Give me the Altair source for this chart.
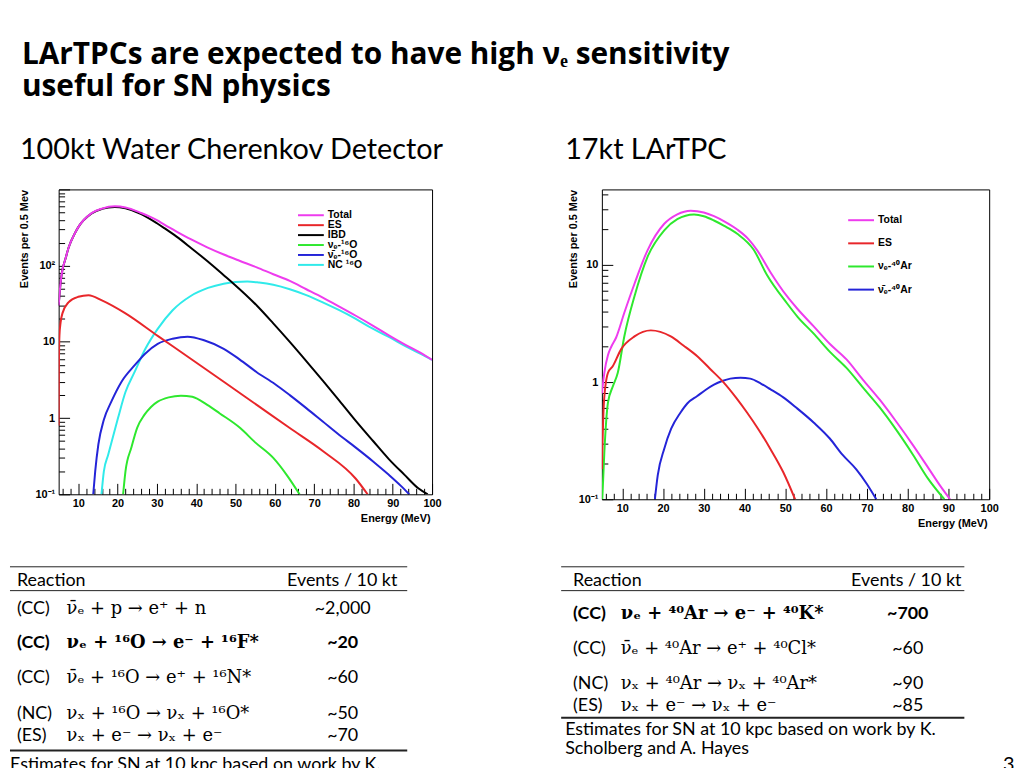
import altair as alt
import pandas as pd

# ---------------- data: 100kt Water Cherenkov ----------------
wc_total_E = [5, 5.5, 6, 6.7, 7.5, 9.2, 10, 13.4, 16, 19.3, 22, 26, 30, 31.9, 35, 38.6, 42.8, 47, 51, 55.4, 59.6, 63.8, 68, 72.2, 76.4, 80.6, 84.8, 89, 93, 97, 100]
wc_total_v = [30, 60, 90, 121, 170, 270, 320, 488, 560, 600, 580, 490, 395, 345, 280, 222, 174, 140, 116, 95, 77, 63, 49, 38, 29, 22, 16.5, 12.2, 9.3, 7.2, 5.8]
wc_es_E = [5, 5.05, 5.2, 5.5, 6, 7.5, 10, 12.6, 16, 21.8, 30.2, 38.6, 47, 55.4, 63.8, 72.2, 80.6, 83.6]
wc_es_v = [0.8, 4, 12, 18, 24, 33, 39, 41, 35, 24, 12, 6, 3.0, 1.49, 0.74, 0.37, 0.16, 0.1]
wc_ibd_E = [5, 5.5, 6, 6.7, 7.5, 9.2, 10, 13.4, 16, 19.3, 22, 26, 30, 31.9, 35, 38.6, 42.8, 47, 49.5, 55.4, 59.6, 63.8, 68, 72.2, 76.4, 80.6, 85, 89, 93, 96.5, 98.9]
wc_ibd_v = [30, 60, 90, 121, 170, 270, 320, 485, 555, 590, 565, 475, 360, 310, 240, 172, 115, 75, 58, 30, 17.5, 10, 5.6, 3.1, 1.7, 0.92, 0.5, 0.29, 0.18, 0.12, 0.1]
wc_nue_E = [21.4, 22, 23.5, 25, 26.8, 28.5, 30.2, 33, 36.1, 39, 42.8, 46, 51.2, 55, 59.6, 63, 66.3]
wc_nue_v = [0.1, 0.2, 0.41, 0.75, 1.1, 1.4, 1.64, 1.87, 1.97, 1.9, 1.49, 1.15, 0.74, 0.48, 0.30, 0.18, 0.1]
wc_nuebar_E = [13.8, 14.3, 15.1, 16.5, 18.4, 21, 24.3, 27, 30.2, 34, 37.8, 42, 47, 51, 55.4, 60, 63.8, 68, 72.2, 76.4, 80.6, 85, 89, 92, 94.2]
wc_nuebar_v = [0.1, 0.2, 0.45, 0.95, 1.64, 3.0, 4.9, 7, 9.4, 11, 11.7, 10.5, 8.1, 5.9, 4.0, 2.8, 2.0, 1.35, 0.9, 0.6, 0.41, 0.27, 0.18, 0.13, 0.1]
wc_nc_E = [15.9, 16.5, 17.6, 20.1, 22, 24.3, 27, 30.2, 34, 38.6, 43, 47, 50, 53, 56, 59.6, 63.8, 68, 72.2, 76.4, 80.6, 84.8, 89, 93.2, 97, 100]
wc_nc_v = [0.1, 0.2, 0.33, 1.0, 2.2, 4.0, 8, 14.8, 26, 40, 51, 58, 61, 62, 60, 56, 49, 41, 33, 26, 20, 15, 11.6, 8.8, 7, 5.8]

wc_names = ["Total", "ES", "IBD", "νₑ-¹⁶O", "ν̄ₑ-¹⁶O", "NC ¹⁶O"]
wc_colors = ["#ee3cee", "#e8262a", "#000000", "#2ee82e", "#2424d8", "#30eaea"]

# ---------------- data: 17kt LArTPC ----------------
ar_total_E = [5, 5.6, 6.5, 7.3, 8.5, 10.5, 13, 16.2, 20.3, 23.5, 26.8, 30, 32.5, 35, 38.2, 41, 43.1, 46.3, 50.4, 53, 56.9, 61, 65, 69, 73.1, 77, 81.3, 85.3, 88, 90.4]
ar_total_v = [0.8, 1.2, 1.7, 2.0, 2.4, 3.9, 6.9, 13.3, 22.4, 27, 29, 28, 26, 23.5, 20, 16.5, 13.3, 8.7, 5.4, 4.2, 3.0, 2.1, 1.56, 1.05, 0.71, 0.47, 0.29, 0.18, 0.13, 0.1]
ar_es_E = [5, 5.5, 6.5, 7.7, 9.7, 13, 17, 21.9, 25, 28.4, 31.5, 34.9, 38, 40.6, 43.5, 46.3, 49.5, 52.4]
ar_es_v = [0.18, 0.67, 1.2, 1.37, 1.9, 2.45, 2.76, 2.45, 2.05, 1.66, 1.3, 0.99, 0.73, 0.55, 0.39, 0.27, 0.17, 0.1]
ar_nue_E = [5.1, 5.6, 6.5, 7.7, 8.9, 10.5, 13, 16.2, 20.3, 23.5, 27.6, 30, 32.5, 35, 38.2, 42.2, 45.5, 50.4, 53, 56.9, 61, 65, 69, 73.1, 77, 81.3, 85, 89]
ar_nue_v = [0.1, 0.25, 0.67, 0.92, 1.2, 2.45, 5.4, 11.7, 19.7, 24.5, 26.9, 26, 23.9, 21.5, 18.4, 13.5, 8.2, 4.7, 3.6, 2.6, 1.8, 1.32, 0.9, 0.61, 0.4, 0.24, 0.15, 0.1]
ar_nuebar_E = [18, 18.7, 20.3, 22, 24.3, 26, 28.4, 30.5, 32.5, 34.5, 36.5, 39, 41.4, 44, 46.3, 49.5, 52.8, 57, 60.9, 64, 67.4, 70, 72.3]
ar_nuebar_v = [0.1, 0.16, 0.27, 0.4, 0.55, 0.66, 0.76, 0.86, 0.95, 1.02, 1.07, 1.09, 1.07, 0.97, 0.87, 0.74, 0.6, 0.45, 0.33, 0.24, 0.18, 0.135, 0.1]

ar_names = ["Total", "ES", "νₑ-⁴⁰Ar", "ν̄ₑ-⁴⁰Ar"]
ar_colors = ["#ee3cee", "#e8262a", "#2ee82e", "#2424d8"]

# ---------------- text ----------------
title_lines = ["LArTPCs are expected to have high νₑ sensitivity", "useful for SN physics"]
subtitles = ["100kt Water Cherenkov Detector", "17kt LArTPC"]
table_header = ["Reaction", "Events / 10 kt"]

wc_type = ["(CC)", "(CC)", "(CC)", "(NC)", "(ES)"]
wc_reaction = ["ν̄ₑ + p → e⁺ + n", "νₑ + ¹⁶O → e⁻ + ¹⁶F*", "ν̄ₑ + ¹⁶O → e⁺ + ¹⁶N*", "νₓ + ¹⁶O → νₓ + ¹⁶O*", "νₓ + e⁻ → νₓ + e⁻"]
wc_events = ["~2,000", "~20", "~60", "~50", "~70"]
wc_bold = [False, True, False, False, False]

ar_type = ["(CC)", "(CC)", "(NC)", "(ES)"]
ar_reaction = ["νₑ + ⁴⁰Ar → e⁻ + ⁴⁰K*", "ν̄ₑ + ⁴⁰Ar → e⁺ + ⁴⁰Cl*", "νₓ + ⁴⁰Ar → νₓ + ⁴⁰Ar*", "νₓ + e⁻ → νₓ + e⁻"]
ar_events = ["~700", "~60", "~90", "~85"]
ar_bold = [True, False, False, False]

footer_lines = ["Estimates for SN at 10 kpc based on work by K.", "Scholberg and A. Hayes"]
page_number = "3"

FONT_TITLE = "Open Sans"
FONT_SLIDE = "Lato"
FONT_ROOT = "Liberation Sans"
FONT_MATH = "DejaVu Serif"
TS = 18  # table text size


def text(t, x, y, size, weight="normal", font=FONT_SLIDE, align="left", baseline="alphabetic", color="black"):
    return alt.Chart(pd.DataFrame({"t": [t]})).mark_text(
        align=align, baseline=baseline, font=font, fontSize=size, fontWeight=weight, color=color
    ).encode(text="t:N", x=alt.value(x), y=alt.value(y))


def hrule(x1, x2, y, w=1.0, color="#222222", opacity=1.0):
    return alt.Chart(pd.DataFrame({"k": [0]})).mark_rule(
        color=color, strokeWidth=w, strokeOpacity=opacity
    ).encode(x=alt.value(x1), x2=alt.value(x2), y=alt.value(y))


def log_ticks(top):
    vals = []
    for d in [0.1, 1, 10, 100]:
        for k in range(1, 10):
            v = round(d * k, 6)
            if v <= top:
                vals.append(v)
    if 1000 <= top:
        vals.append(1000)
    return vals


MAJOR_Y = "abs(log(datum.value)/LN10 - round(log(datum.value)/LN10)) < 0.001"
LABEL_Y = "datum.value < 0.5 ? '10⁻¹' : (datum.value > 50 ? '10²' : format(datum.value, 'd'))"


def panel(series, W, H, ymax, ylabels, legend_pos, legend_step, extra):
    xs = alt.Scale(domain=[5, 100], nice=False, zero=False)
    ys = alt.Scale(type="log", domain=[0.1, ymax], nice=False)
    frames = []
    for (E, v, name, col) in series:
        frames.append(pd.DataFrame({"E": E, "v": v, "s": name}))
    all_df = pd.concat(frames, ignore_index=True)

    tick_x = alt.Axis(orient="top", offset=-H, values=list(range(6, 101, 2)), labels=False,
                      domain=False, grid=False, title=None, tickColor="black", tickWidth=1,
                      tickSize={"condition": {"test": "datum.value % 10 === 0", "value": 11}, "value": 6})
    tick_y = alt.Axis(orient="right", offset=-W, values=log_ticks(ymax), labels=False,
                      domain=False, grid=False, title=None, tickColor="black", tickWidth=1,
                      tickSize={"condition": {"test": MAJOR_Y, "value": 11}, "value": 6})
    ticks_layer = alt.Chart(all_df).mark_line(strokeOpacity=0).encode(
        x=alt.X("E:Q", scale=xs, axis=tick_x),
        y=alt.Y("v:Q", scale=ys, axis=tick_y),
        detail="s:N",
    )
    lab_x = alt.Axis(orient="bottom", values=list(range(10, 101, 10)), ticks=False, domain=False, grid=False,
                     labelFont=FONT_ROOT, labelFontWeight="bold", labelFontSize=11, labelColor="black",
                     labelPadding=3, labelFlush=False, labelOverlap=False,
                     title="Energy (MeV)", titleFont=FONT_ROOT, titleFontWeight="bold", titleFontSize=11,
                     titleColor="black", titleX=W - 2, titleY=extra["xtitle_y"], titleAlign="right",
                     titleBaseline="middle")
    lab_y = alt.Axis(orient="left", values=ylabels, ticks=False, domain=False, grid=False,
                     labelFont=FONT_ROOT, labelFontWeight="bold", labelFontSize=11, labelColor="black",
                     labelPadding=4, labelExpr=LABEL_Y, labelOverlap=False, labelFlush=False,
                     title="Events per 0.5 Mev", titleFont=FONT_ROOT, titleFontWeight="bold",
                     titleFontSize=11, titleColor="black", titleAngle=270, titleX=extra["ytitle_x"],
                     titleY=0, titleAlign="right", titleBaseline="middle")
    label_layer = alt.Chart(all_df).mark_line(strokeOpacity=0).encode(
        x=alt.X("E:Q", scale=xs, axis=lab_x),
        y=alt.Y("v:Q", scale=ys, axis=lab_y),
        detail="s:N",
    )
    layers = [ticks_layer, label_layer]
    for (E, v, name, col) in reversed(series):
        df = pd.DataFrame({"E": E, "v": v})
        layers.append(
            alt.Chart(df).mark_line(color=col, strokeWidth=2, clip=True, interpolate="monotone").encode(
                x=alt.X("E:Q", scale=xs, axis=None),
                y=alt.Y("v:Q", scale=ys, axis=None),
            )
        )
    # legend
    lx, ly = legend_pos
    for i, (E, v, name, col) in enumerate(series):
        yy = ly + i * legend_step
        layers.append(hrule(lx, lx + 26, yy, w=2, color=col))
        layers.append(text(name, lx + 30, yy, 10.5, weight="bold", font=FONT_ROOT, baseline="middle"))
    layers.extend(extra["layers"])
    return alt.layer(*layers).resolve_axis(x="independent", y="independent").properties(width=W, height=H)


# ---------- left panel (origin at page 57,187) ----------
W1, H1 = 376, 307
left_extra_layers = [
    hrule(-49, -45, -179, opacity=0),  # invisible anchor at page top-left
    text(title_lines[0], -37, -126, 30, weight="bold", font=FONT_TITLE),
    text(title_lines[1], -37, -94, 30, weight="bold", font=FONT_TITLE),
    text(subtitles[0], -39, -31, 29),
    hrule(-49, 351, 380, w=1),
    text(table_header[0], -42, 399, TS),
    text(table_header[1], 341, 399, TS, align="right"),
    hrule(-49, 351, 404, w=1),
    hrule(-49, 351, 565, w=2),
    text(footer_lines[0], -49, 585, TS),
]
wc_rows_y = [428, 462, 497, 533, 555]
for i in range(len(wc_type)):
    wgt = "bold" if wc_bold[i] else "normal"
    left_extra_layers.append(text(wc_type[i], -42, wc_rows_y[i], TS, weight=wgt))
    left_extra_layers.append(text(wc_reaction[i], 8, wc_rows_y[i], 18, weight=wgt, font=FONT_MATH))
    left_extra_layers.append(text(wc_events[i], 286, wc_rows_y[i], TS, weight=wgt, align="center"))

left = panel(
    [(wc_total_E, wc_total_v, wc_names[0], wc_colors[0]),
     (wc_es_E, wc_es_v, wc_names[1], wc_colors[1]),
     (wc_ibd_E, wc_ibd_v, wc_names[2], wc_colors[2]),
     (wc_nue_E, wc_nue_v, wc_names[3], wc_colors[3]),
     (wc_nuebar_E, wc_nuebar_v, wc_names[4], wc_colors[4]),
     (wc_nc_E, wc_nc_v, wc_names[5], wc_colors[5])],
    W1, H1, 1000, [0.1, 1, 10, 100], (241, 26), 10,
    {"xtitle_y": 24, "ytitle_x": -34, "layers": left_extra_layers},
)

# ---------- right panel (origin at page 604,187) ----------
W2, H2 = 390, 312
right_extra_layers = [
    text(subtitles[1], -37, -31, 29),
    hrule(-41, 365, 380, w=1),
    text(table_header[0], -29, 399, TS),
    text(table_header[1], 362, 399, TS, align="right"),
    hrule(-41, 365, 404, w=1),
    hrule(-41, 365, 532, w=2),
    text(footer_lines[0], -37, 549, TS),
    text(footer_lines[1], -37, 568, TS),
    text(page_number, 404, 586, 20),
]
ar_rows_y = [433, 468, 503, 525]
for i in range(len(ar_type)):
    wgt = "bold" if ar_bold[i] else "normal"
    right_extra_layers.append(text(ar_type[i], -29, ar_rows_y[i], TS, weight=wgt))
    right_extra_layers.append(text(ar_reaction[i], 19, ar_rows_y[i], 18, weight=wgt, font=FONT_MATH))
    right_extra_layers.append(text(ar_events[i], 308, ar_rows_y[i], TS, weight=wgt, align="center"))

right = panel(
    [(ar_total_E, ar_total_v, ar_names[0], ar_colors[0]),
     (ar_es_E, ar_es_v, ar_names[1], ar_colors[1]),
     (ar_nue_E, ar_nue_v, ar_names[2], ar_colors[2]),
     (ar_nuebar_E, ar_nuebar_v, ar_names[3], ar_colors[3])],
    W2, H2, 44, [0.1, 1, 10], (248, 31), 23.3,
    {"xtitle_y": 24, "ytitle_x": -29, "layers": right_extra_layers},
)

chart = alt.hconcat(left, right, spacing=171, bounds="flush").properties(
    padding=0, background="white"
).configure_view(stroke="black", strokeWidth=1)

chart.save("out.html", embed_options={"renderer": "svg", "actions": False})
